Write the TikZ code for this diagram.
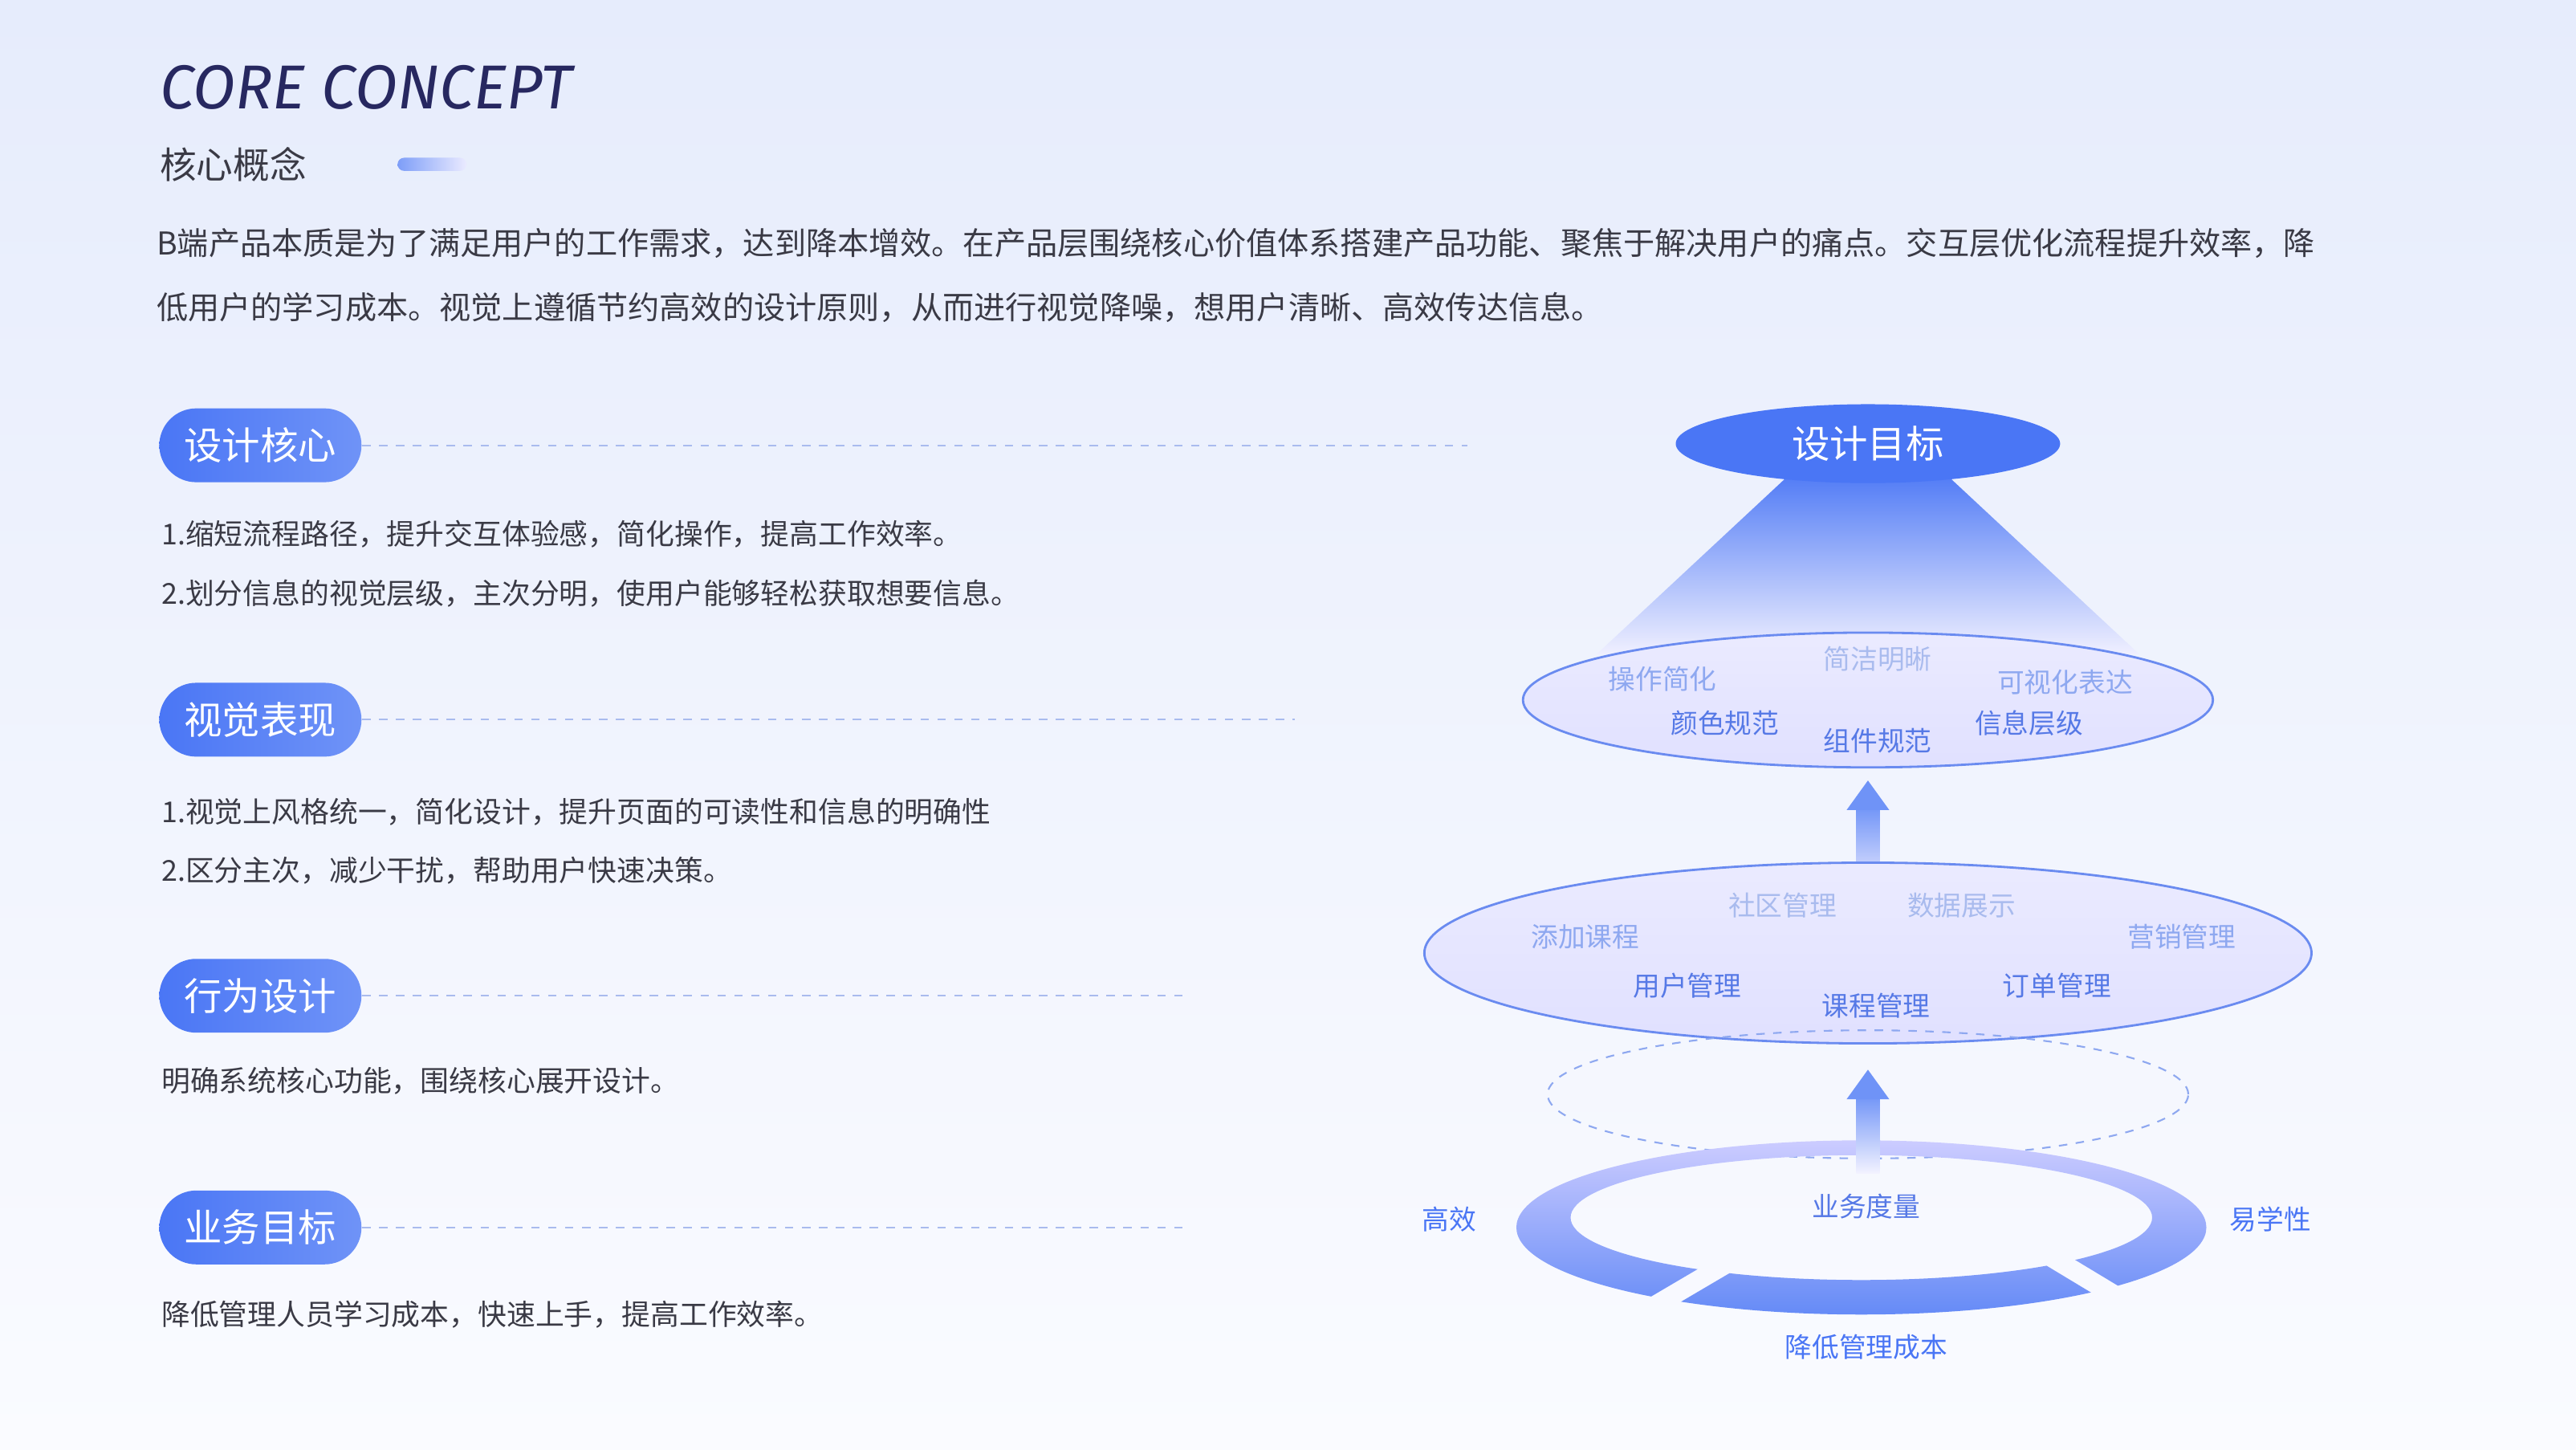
\documentclass[tikz,border=0pt]{standalone}
\usepackage{fontspec}
\setmainfont{Noto Sans CJK SC}
\newfontfamily\titlefont{Fira Sans}
\usetikzlibrary{shapes.geometric}
\definecolor{navy}{HTML}{272860}
\definecolor{txt}{HTML}{3A3A45}
\definecolor{blu}{HTML}{4A76F5}
\definecolor{blu2}{HTML}{6F93F7}
\definecolor{edge}{HTML}{6A8BF0}
\definecolor{lab1}{HTML}{8EA8F0}
\definecolor{lab0}{HTML}{A9BBEE}
\definecolor{lab2}{HTML}{5679E6}
\definecolor{bgtop}{HTML}{E6ECFC}
\definecolor{bgbot}{HTML}{FAFBFF}
\tikzset{
 pill/.style={rounded corners=0.46cm,left color=blu,right color=blu2,minimum width=2.52cm,minimum height=0.92cm,text=white,font=\fontsize{13.5}{15}\selectfont,inner sep=0},
 body/.style={anchor=west,text=txt,font=\fontsize{10.2}{11}\selectfont,inner sep=0},
 para/.style={anchor=west,text=txt,font=\fontsize{11.15}{12}\selectfont,inner sep=0},
 dline/.style={draw=lab0,dashed,line width=0.6pt},
 lab/.style={font=\fontsize{9.6}{11}\selectfont,inner sep=0},
 ell/.style={draw=edge,line width=0.8pt,top color=white!20!blue!10,bottom color=blue!12!white}
}
\begin{document}
\begin{tikzpicture}[x=0.02047cm,y=-0.02047cm]
\shade[top color=bgtop,bottom color=bgbot] (0,0) rectangle (1568,882);
\useasboundingbox (0,0) rectangle (1568,882);
% header
\node[anchor=west,inner sep=0,text=navy,font=\titlefont\fontsize{22}{26}\selectfont\itshape] (title) at (97,53) {CORE CONCEPT};
\node[anchor=west,inner sep=0,text=txt,font=\fontsize{13}{15}\selectfont] (sub) at (97,100) {核心概念};
\shade[left color=blu2!90,right color=blue!8!white,rounded corners=4*0.02047cm] (242,96) rectangle (284,104);
\node[para] (p1) at (95,148) {B端产品本质是为了满足用户的工作需求，达到降本增效。在产品层围绕核心价值体系搭建产品功能、聚焦于解决用户的痛点。交互层优化流程提升效率，降};
\node[para] (p2) at (95,187) {低用户的学习成本。视觉上遵循节约高效的设计原则，从而进行视觉降噪，想用户清晰、高效传达信息。};
% left sections
\node[pill] (s1) at (158.5,271) {设计核心};
\coordinate (e1) at (893,271); \draw[dline] (s1.east) -- (e1);
\node[body] (t11) at (98,325) {1.缩短流程路径，提升交互体验感，简化操作，提高工作效率。};
\node[body] (t12) at (98,361) {2.划分信息的视觉层级，主次分明，使用户能够轻松获取想要信息。};
\node[pill] (s2) at (158.5,438) {视觉表现};
\coordinate (e2) at (788,438); \draw[dline] (s2.east) -- (e2);
\node[body] (t21) at (98,494) {1.视觉上风格统一，简化设计，提升页面的可读性和信息的明确性};
\node[body] (t22) at (98,530) {2.区分主次，减少干扰，帮助用户快速决策。};
\node[pill] (s3) at (158.5,606) {行为设计};
\coordinate (e3) at (720,606); \draw[dline] (s3.east) -- (e3);
\node[body] (t31) at (98,658) {明确系统核心功能，围绕核心展开设计。};
\node[pill] (s4) at (158.5,747) {业务目标};
\coordinate (e4) at (720,747); \draw[dline] (s4.east) -- (e4);
\node[body] (t41) at (98,800) {降低管理人员学习成本，快速上手，提高工作效率。};
% cone
\shade[top color=blu!95,bottom color=blue!6!white] (1088,290) -- (1186,290) -- (1302,398) -- (972,398) -- cycle;
\node[ellipse,fill=blu,minimum width=234*0.02047cm,minimum height=48*0.02047cm,text=white,font=\fontsize{13.5}{15}\selectfont,inner sep=0] (goal) at (1137,270) {设计目标};
% ellipse 2
\node[ellipse,ell,minimum width=420*0.02047cm,minimum height=82*0.02047cm] (v2) at (1137,426) {};
\node[lab,text=lab1] (a1) at (1012,413) {操作简化};
\node[lab,text=lab0] (a2) at (1143,401) {简洁明晰};
\node[lab,text=lab1] (a3) at (1257,415) {可视化表达};
\node[lab,text=lab2] (a4) at (1050,440) {颜色规范};
\node[lab,text=lab2] (a5) at (1143,451) {组件规范};
\node[lab,text=lab2] (a6) at (1235,440) {信息层级};
% arrow 1
\shade[top color=blu2,bottom color=blue!8!white] (1130,490) rectangle (1144,542);
\fill[blu2] (1137,475) -- (1150,493) -- (1124,493) -- cycle;
% ellipse 3
\node[ellipse,ell,minimum width=540*0.02047cm,minimum height=110*0.02047cm] (v3) at (1137,580) {};
\node[lab,text=lab1] (b1) at (965,570) {添加课程};
\node[lab,text=lab0] (b2) at (1085,551) {社区管理};
\node[lab,text=lab0] (b3) at (1194,551) {数据展示};
\node[lab,text=lab1] (b4) at (1328,570) {营销管理};
\node[lab,text=lab2] (b5) at (1027,600) {用户管理};
\node[lab,text=lab2] (b6) at (1142,612) {课程管理};
\node[lab,text=lab2] (b7) at (1252,600) {订单管理};
% dashed ellipse
\node[ellipse,draw=lab1,dashed,line width=0.6pt,minimum width=390*0.02047cm,minimum height=78*0.02047cm] (v4) at (1137,666) {};
% ring
\begin{scope}[even odd rule]
\clip (800,600) rectangle (1500,850)
  (1061,770) -- (1051,762) -- (983,802) -- (993,810) -- cycle
  (1227,759) -- (1237,751) -- (1305,792) -- (1295,800) -- cycle;
\shade[top color=blue!20!white,bottom color=blu!85]
  (1133,747) ellipse [x radius=210,y radius=53]
  (1133,741) ellipse [x radius=177,y radius=38];
\end{scope}
% arrow 2
\shade[top color=blu2,bottom color=blue!5!white] (1130,666) rectangle (1144,714);
\fill[blu2] (1137,651) -- (1150,669) -- (1124,669) -- cycle;
\node[lab,text=lab2] (m) at (1136,734) {业务度量};
\node[lab,text=blu] (g1) at (882,742) {高效};
\node[lab,text=blu] (g2) at (1382,742) {易学性};
\node[lab,text=blu] (g3) at (1136,820) {降低管理成本};
\end{tikzpicture}
\end{document}
